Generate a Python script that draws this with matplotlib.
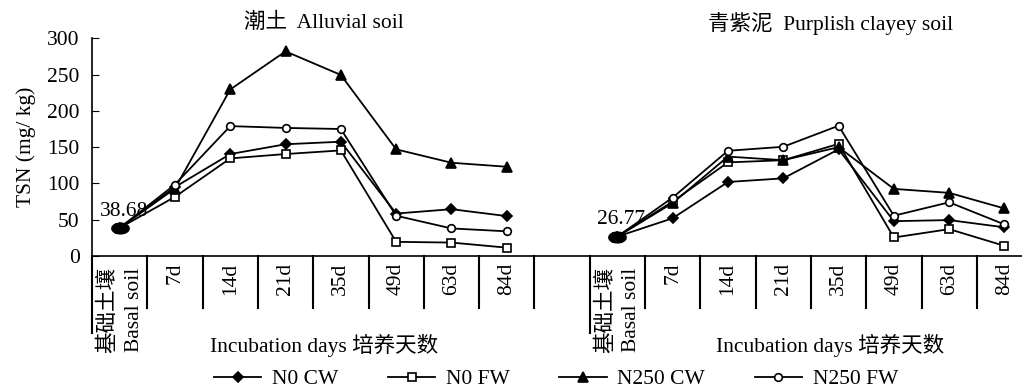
import numpy as np
import matplotlib.pyplot as plt

plt.rcParams['font.family'] = ['Liberation Serif', 'Noto Sans CJK SC']
plt.rcParams['font.size'] = 15.5

days = ['7d', '14d', '21d', '35d', '49d', '63d', '84d']
basal_label = '基础土壤\nBasal soil'
series = ['N0 CW', 'N0 FW', 'N250 CW', 'N250 FW']

# Alluvial soil (潮土)
alluvial_basal = 38.68
alluvial_n0_cw = [95, 140.5, 154, 157.5, 58.5, 64.5, 55]
alluvial_n0_fw = [81.5, 134.5, 140.5, 145.5, 19.5, 18.5, 11.5]
alluvial_n250_cw = [93, 229.5, 282, 249.5, 147, 128.5, 123]
alluvial_n250_fw = [98.5, 179, 176.5, 175, 55.5, 38, 34]

# Purplish clayey soil (青紫泥)
purple_basal = 26.77
purple_n0_cw = [52, 102, 107, 147, 48, 49.5, 39.5]
purple_n0_fw = [75, 129, 132, 154.5, 25.5, 37, 14]
purple_n250_cw = [73, 137, 132, 150, 92.5, 87, 65.5]
purple_n250_fw = [80.5, 145, 150.5, 179.5, 55.5, 74, 43.5]

styles = {
    'N0 CW': dict(marker='D', markersize=5, mfc='black'),
    'N0 FW': dict(marker='s', markersize=5.3, mfc='white'),
    'N250 CW': dict(marker='^', markersize=7.5, mfc='black'),
    'N250 FW': dict(marker='o', markersize=5.5, mfc='white'),
}

t = np.linspace(0, 2 * np.pi, 40)
ellipse = np.column_stack([np.cos(t), 0.62 * np.sin(t)])

fig = plt.figure(figsize=(10.22, 3.92), dpi=100)
ax = fig.add_axes([92 / 1022, 136 / 392, 17 * 55.3 / 1022, 217.7 / 392])

groups = [
    (0, alluvial_basal, [alluvial_n0_cw, alluvial_n0_fw, alluvial_n250_cw, alluvial_n250_fw]),
    (9, purple_basal, [purple_n0_cw, purple_n0_fw, purple_n250_cw, purple_n250_fw]),
]

for gi, (start, basal, vals) in enumerate(groups):
    x = start + 0.5 + np.arange(len(days) + 1)
    for name, v in zip(series, vals):
        ax.plot(x, [basal] + v, color='black', lw=1.3, mec='black', mew=1.2,
                label=name if gi == 0 else None, **styles[name])
    ax.plot(x[0], basal, marker=ellipse, markersize=12.5, color='black', lw=0, zorder=5)
    ax.annotate(f'{basal:.2f}', (x[0], basal), xytext=(3, 12), textcoords='offset points',
                ha='center', va='center')

ax.set_xlim(0, 17)
ax.set_ylim(0, 300)
ax.set_yticks(np.arange(0, 301, 50))
ax.tick_params(axis='y', direction='in', length=5, pad=9)
ax.set_xticks([])
ax.spines['top'].set_visible(False)
ax.spines['right'].set_visible(False)
ax.spines['left'].set_linewidth(1.2)
ax.spines['bottom'].set_linewidth(1.2)
ax.set_ylabel('TSN (mg/ kg)', labelpad=8)

trans = ax.get_xaxis_transform()
for start in (0, 9):
    ax.plot([start, start], [0, -0.354], transform=trans, color='black', lw=1.5, clip_on=False)
    ax.text(start + 0.52, -0.05, basal_label, transform=trans, rotation=90,
            ha='center', va='top', linespacing=1.45)
    for i, d in enumerate(days):
        ax.plot([start + i + 1] * 2, [0, -0.239], transform=trans, color='black', lw=1.5, clip_on=False)
        ax.text(start + i + 1.5, -0.03, d, transform=trans, rotation=90,
                ha='center', va='top')
ax.plot([8, 8], [0, -0.239], transform=trans, color='black', lw=1.5, clip_on=False)

ax.text(4.2, 1.07, '潮土  Alluvial soil', transform=trans, ha='center', va='center')
ax.text(13.35, 1.07, '青紫泥  Purplish clayey soil', transform=trans, ha='center', va='center')
ax.text(4.2, -0.41, 'Incubation days 培养天数', transform=trans, ha='center', va='center')
ax.text(13.35, -0.41, 'Incubation days 培养天数', transform=trans, ha='center', va='center')

fig.legend(loc='center', bbox_to_anchor=(0.544, 0.032), ncol=4, frameon=False,
           handlelength=2.2, columnspacing=2.3, handletextpad=0.5)

fig.savefig('out.png', dpi=100)
